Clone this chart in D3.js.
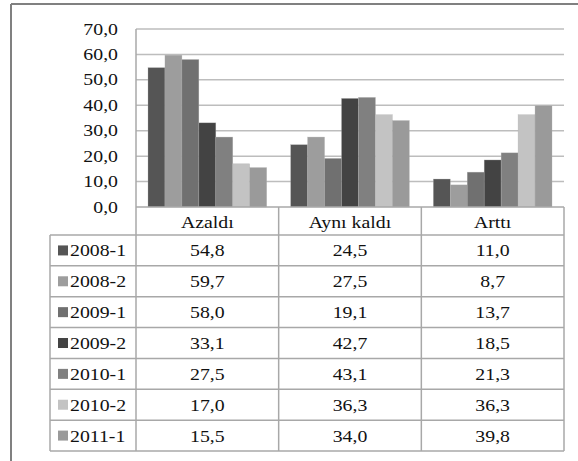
<!DOCTYPE html>
<html><head><meta charset="utf-8">
<script src="https://cdn.jsdelivr.net/npm/d3@7"></script>
<style>body{margin:0;background:#fff}svg{display:block}
text{font-family:"Liberation Serif","Times New Roman",Tinos,serif;}</style>
</head><body>
<script>
const categories = ["Azaldı", "Aynı kaldı", "Arttı"];
const series = ["2008-1", "2008-2", "2009-1", "2009-2", "2010-1", "2010-2", "2011-1"];
const values = [
  [54.8, 24.5, 11.0],
  [59.7, 27.5, 8.7],
  [58.0, 19.1, 13.7],
  [33.1, 42.7, 18.5],
  [27.5, 43.1, 21.3],
  [17.0, 36.3, 36.3],
  [15.5, 34.0, 39.8]
];
const colors = ["#555555", "#9d9d9d", "#707070", "#434343", "#808080", "#c3c3c3", "#9a9a9a"];
const yTicks = [0, 10, 20, 30, 40, 50, 60, 70];

const W = 578, H = 461;
const fmt = v => v.toFixed(1).replace(".", ",");
const svg = d3.select("body").append("svg").attr("width", W).attr("height", H);
const sx = 1.2;

// outer frame
svg.append("line").attr("x1", 11).attr("x2", 11).attr("y1", 4).attr("y2", H).attr("stroke", "#808080").attr("stroke-width", 2);
svg.append("line").attr("x1", 11).attr("x2", W).attr("y1", 4).attr("y2", 4).attr("stroke", "#808080").attr("stroke-width", 2);

const x0 = d3.scaleBand().domain(categories).range([136, 564]);
const x1 = d3.scaleBand().domain(series).range([12, x0.bandwidth() - 12]);
const y = d3.scaleLinear().domain([0, 70]).range([207, 29]);

function txt(g, x, yy, s, anchor) {
  return g.append("text").attr("transform", `translate(${x},${yy}) scale(${sx},1)`)
    .attr("text-anchor", anchor).style("font-size", "16.5px")
    .attr("fill", "#111").text(s);
}

// gridlines
svg.append("g").selectAll("line").data(yTicks.filter(t => t > 0)).join("line")
  .attr("x1", 136).attr("x2", 564).attr("y1", d => y(d)).attr("y2", d => y(d))
  .attr("stroke", "#bdbdbd").attr("stroke-width", 1.5);

// y axis labels
const yl = svg.append("g");
yTicks.forEach(t => txt(yl, 118, y(t) + 5.5, fmt(t), "end"));

// bars
const bars = svg.append("g");
series.forEach((s, i) => {
  bars.selectAll(null).data(categories.map((c, j) => ({c, v: values[i][j]}))).join("rect")
    .attr("x", d => x0(d.c) + x1(s)).attr("width", x1.bandwidth())
    .attr("y", d => y(d.v)).attr("height", d => y(0) - y(d.v))
    .attr("fill", colors[i]).attr("stroke", "#b0b0b0").attr("stroke-width", 0.5).attr("stroke-opacity", 0.6);
});

// table
const rowTop = 235, rowH = 30.86, tableBottom = rowTop + rowH * series.length;
const lineCol = "#a8a8a8";
const tb = svg.append("g");
tb.append("line").attr("x1", 136).attr("x2", 564).attr("y1", 207).attr("y2", 207).attr("stroke", lineCol).attr("stroke-width", 1.5);
for (let i = 0; i <= series.length; i++) {
  const yy = rowTop + i * rowH;
  tb.append("line").attr("x1", 50).attr("x2", 564).attr("y1", yy).attr("y2", yy).attr("stroke", lineCol).attr("stroke-width", 1.5);
}
tb.append("line").attr("x1", 136).attr("x2", 136).attr("y1", 29).attr("y2", tableBottom).attr("stroke", lineCol).attr("stroke-width", 1.5);
tb.append("line").attr("x1", 50).attr("x2", 50).attr("y1", rowTop).attr("y2", tableBottom).attr("stroke", lineCol).attr("stroke-width", 1.5);
categories.forEach(c => {
  const xx = x0(c) + x0.bandwidth();
  tb.append("line").attr("x1", xx).attr("x2", xx).attr("y1", 207).attr("y2", tableBottom).attr("stroke", lineCol).attr("stroke-width", 1.5);
});
categories.forEach(c => txt(tb, x0(c) + x0.bandwidth() / 2, 228, c, "middle"));
series.forEach((s, i) => {
  const cy = rowTop + i * rowH + rowH / 2;
  tb.append("rect").attr("x", 58).attr("y", cy - 5).attr("width", 10).attr("height", 10).attr("fill", colors[i]);
  txt(tb, 70, cy + 6, s, "start");
  categories.forEach((c, j) => txt(tb, x0(c) + x0.bandwidth() / 2, cy + 6, fmt(values[i][j]), "middle"));
});
</script>
</body></html>
